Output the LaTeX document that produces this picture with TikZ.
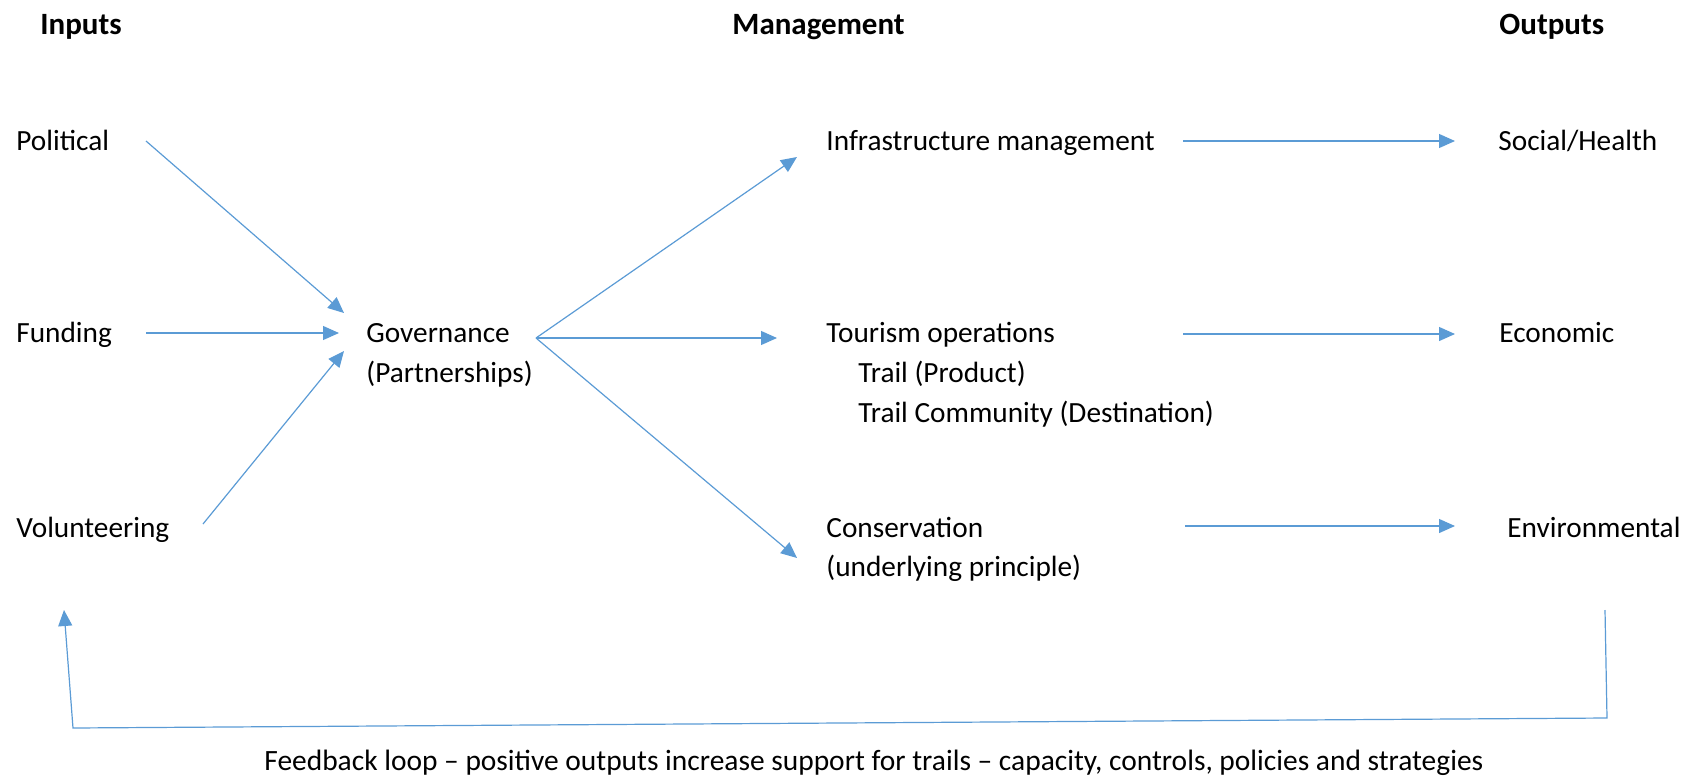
\documentclass[tikz,border=0pt]{standalone}
\usepackage{fontspec}
\setmainfont{Carlito}
\usetikzlibrary{arrows.meta}
\definecolor{lineblue}{HTML}{5B9BD5}
\tikzset{
  lbl/.style={anchor=base west, inner sep=0pt, font=\fontsize{14.65}{17}\selectfont},
  head/.style={anchor=base west, inner sep=0pt, font=\bfseries\fontsize{15.5}{18}\selectfont},
  conn/.style={draw=lineblue, line width=0.6pt, -{Triangle[length=8pt,width=7pt]}}
}
\begin{document}
\begin{tikzpicture}[x=0.5pt,y=-0.5pt]
\useasboundingbox (0,0) rectangle (1697,777);
% headings
\node[head] (hin) at (40,34) {Inputs};
\node[head] (hman) at (732,34) {Management};
\node[head] (hout) at (1499,34) {Outputs};
% inputs
\node[lbl] (pol) at (16,150) {Political};
\node[lbl] (fund) at (16,342) {Funding};
\node[lbl] (vol) at (16,537) {Volunteering};
% governance
\node[lbl] (gov) at (366,342) {Governance};
\node[lbl] (govb) at (366,382) {(Partnerships)};
% management
\node[lbl] (infra) at (826,150) {Infrastructure management};
\node[lbl] (tour) at (826,342) {Tourism operations};
\node[lbl] (trailp) at (858,382) {Trail (Product)};
\node[lbl] (trailc) at (858,422) {Trail Community (Destination)};
\node[lbl] (cons) at (826,537) {Conservation};
\node[lbl] (consb) at (826,576) {(underlying principle)};
% outputs
\node[lbl] (soc) at (1498,150) {Social/Health};
\node[lbl] (eco) at (1499,342) {Economic};
\node[lbl] (env) at (1507,537) {Environmental};
% feedback text
\node[lbl, font=\fontsize{14.72}{17}\selectfont] (fbtext) at (264,770) {Feedback loop – positive outputs increase support for trails – capacity, controls, policies and strategies};
% connection points
\coordinate (polS) at (146,141);
\coordinate (polE) at (344,313);
\coordinate (fundS) at (146,333);
\coordinate (fundE) at (339,333);
\coordinate (volS) at (203,524);
\coordinate (volE) at (344,351);
\coordinate (fan) at (536,338);
\coordinate (infraE) at (797,157);
\coordinate (tourE) at (777,338);
\coordinate (consE) at (797,558);
\coordinate (socS) at (1183,141);
\coordinate (socE) at (1455,141);
\coordinate (ecoS) at (1183,334);
\coordinate (ecoE) at (1455,334);
\coordinate (envS) at (1185,526);
\coordinate (envE) at (1455,526);
\coordinate (fbA) at (1605,610);
\coordinate (fbB) at (1607,718);
\coordinate (fbC) at (73,728);
\coordinate (fbD) at (64,610);
% arrows
\draw[conn] (polS) -- (polE);
\draw[conn] (fundS) -- (fundE);
\draw[conn] (volS) -- (volE);
\draw[conn] (fan) -- (infraE);
\draw[conn] (fan) -- (tourE);
\draw[conn] (fan) -- (consE);
\draw[conn] (socS) -- (socE);
\draw[conn] (ecoS) -- (ecoE);
\draw[conn] (envS) -- (envE);
\draw[conn] (fbA) -- (fbB) -- (fbC) -- (fbD);
\end{tikzpicture}
\end{document}
